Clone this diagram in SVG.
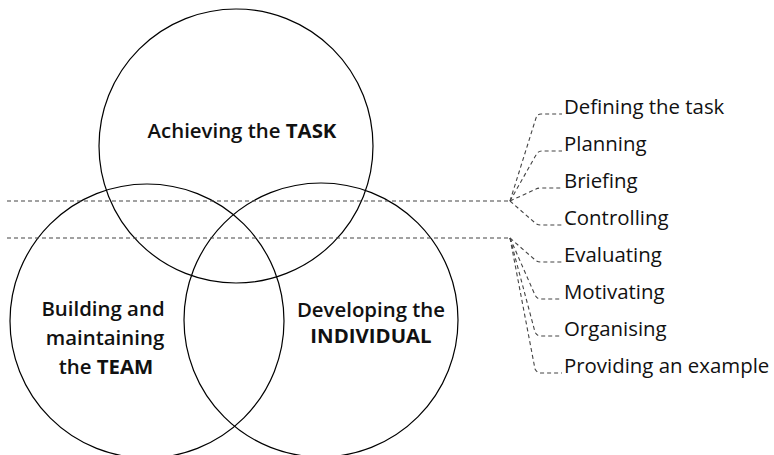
<svg xmlns="http://www.w3.org/2000/svg" width="774" height="455" viewBox="0 0 774 455">
<style>
.c{fill:none;stroke:#000;stroke-width:1.2}
.d{fill:none;stroke:#444;stroke-width:1.1;stroke-dasharray:4 3}
.t{font-family:"Open Sans","Noto Sans",sans-serif;font-size:20.4px;fill:#111}
.m{font-family:"Open Sans","Noto Sans",sans-serif;font-size:20.4px;font-weight:600;fill:#111;text-anchor:middle}
.b{font-weight:700}
</style>
<rect width="774" height="455" fill="#fff"/>
<g id="task">
<circle class="c" cx="236" cy="146" r="137"/>
<text class="m" x="242" y="138">Achieving the <tspan class="b">TASK</tspan></text>
</g>
<g id="team">
<circle class="c" cx="147" cy="321" r="137"/>
<text class="m" x="103" y="316">Building and</text>
<text class="m" x="105" y="345">maintaining</text>
<text class="m" x="106" y="374">the <tspan class="b">TEAM</tspan></text>
</g>
<g id="individual">
<circle class="c" cx="321" cy="320" r="137"/>
<text class="m" x="371" y="317">Developing the</text>
<text class="m b" x="371" y="343">INDIVIDUAL</text>
</g>
<g id="connectors">
<path class="d" d="M7,201 H510"/>
<path class="d" d="M7,238 H510"/>
<path class="d" d="M510,201 L536,118 Q537,114 541,114 H562"/>
<path class="d" d="M510,201 L536,155 Q538,151 542,151 H562"/>
<path class="d" d="M510,201 L536,189 Q538,188 541,188 H562"/>
<path class="d" d="M510,201 L534,222 Q537,225 541,225 H562"/>
<path class="d" d="M510,238 L534,259 Q537,262 541,262 H562"/>
<path class="d" d="M510,238 L535,295 Q537,299 541,299 H562"/>
<path class="d" d="M510,238 L535,332 Q537,336 541,336 H562"/>
<path class="d" d="M510,238 L535,369 Q537,373 541,373 H562"/>
</g>
<g id="labels">
<text class="t" x="564" y="114">Defining the task</text>
<text class="t" x="564" y="151">Planning</text>
<text class="t" x="564" y="188">Briefing</text>
<text class="t" x="564" y="225">Controlling</text>
<text class="t" x="564" y="262">Evaluating</text>
<text class="t" x="564" y="299">Motivating</text>
<text class="t" x="564" y="336">Organising</text>
<text class="t" x="564" y="373">Providing an example</text>
</g>
</svg>
